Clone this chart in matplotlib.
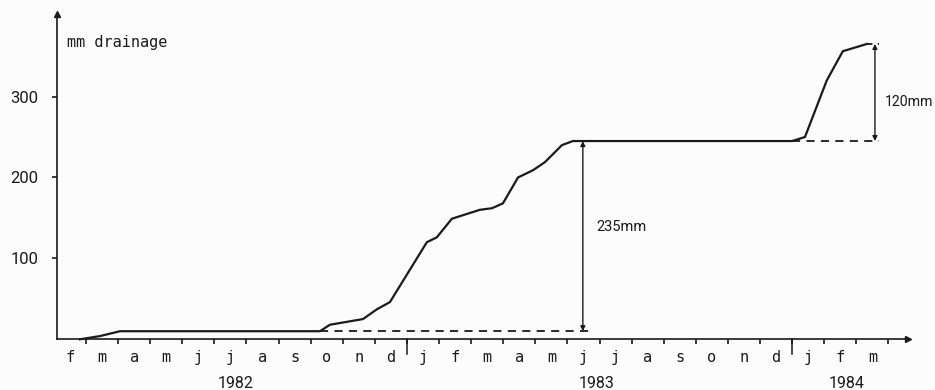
import matplotlib
matplotlib.use("Agg")
import matplotlib.pyplot as plt

# Cumulative drainage, months counted from 1 Jan 1982 (12 = 1 Jan 1983, 24 = 1 Jan 1984)
months = [1.81, 2.44, 3.06, 9.29, 9.60, 10.63, 11.06, 11.47, 12.62, 12.93, 13.40,
          14.27, 14.65, 14.99, 15.46, 15.93, 16.30, 16.83, 17.17, 24.00, 24.40,
          25.08, 25.58, 26.33]
drainage = [0, 4, 10, 10, 18, 25, 37, 46, 120, 126, 149,
            160, 162, 168, 200, 209, 219, 240, 245, 245, 250,
            320, 356, 365]

month_letters = ["f", "m", "a", "m", "j", "j", "a", "s", "o", "n", "d",
                 "j", "f", "m", "a", "m", "j", "j", "a", "s", "o", "n", "d",
                 "j", "f", "m"]
first_month = 1  # February 1982
year_labels = ["1982", "1983", "1984"]
year_label_pos = [6.67, 17.9, 25.7]
year_bounds = [12, 24]
y_ticks = [100, 200, 300]

# Seasonal totals shown as dimension arrows
season1_base, season1_top = 10, 245
season2_base, season2_top = 245, 365

num_font = "Roboto"
mono_font = "DejaVu Sans Mono"
ink = "#1a1a1a"

fig = plt.figure(figsize=(9.35, 3.9), dpi=100, facecolor="#fcfcfc")
ax = fig.add_axes([57 / 935, (390 - 339.3) / 390, (908 - 57) / 935, (339.3 - 14) / 390])
ax.set_facecolor("#fcfcfc")
ax.set_xlim(1.097, 27.61)
ax.set_ylim(0, 402)

# curve
ax.plot(months, drainage, color=ink, lw=1.6, solid_joinstyle="round", clip_on=False)

# axes as arrows
for side in ("top", "right"):
    ax.spines[side].set_visible(False)
for side in ("left", "bottom"):
    ax.spines[side].set_color(ink)
    ax.spines[side].set_linewidth(1.2)
ax.plot(1, 0, ">", color=ink, ms=5, transform=ax.get_yaxis_transform(), clip_on=False)
ax.plot(ax.get_xlim()[0], 1, "^", color=ink, ms=5,
        transform=ax.get_xaxis_transform(), clip_on=False)

# y axis
ax.set_yticks(y_ticks)
ax.set_yticklabels([str(v) for v in y_ticks], fontsize=12, family=num_font, color=ink)
ax.tick_params(axis="y", direction="out", length=3.5, width=1.2, color=ink, pad=10)

# x axis: ticks at month boundaries, letters at month centres
bounds = list(range(2, 28))
ax.set_xticks(bounds)
ax.set_xticklabels([""] * len(bounds))
ax.tick_params(axis="x", which="major", direction="out", length=3.5, width=1.2, color=ink)
centres = [first_month + i + 0.5 for i in range(len(month_letters))]
ax.set_xticks(centres, minor=True)
ax.set_xticklabels(month_letters, minor=True, fontsize=11, family=mono_font, color=ink)
ax.tick_params(axis="x", which="minor", length=0, pad=8)

# year boundaries
for b in year_bounds:
    ax.plot([b, b], [0, -18], color=ink, lw=1.1, clip_on=False)
for lab, x in zip(year_labels, year_label_pos):
    ax.text(x, -55, lab, ha="center", va="center", fontsize=11.5, family=num_font, color=ink)

ax.text(1.41, 367, "mm drainage", ha="left", va="center", fontsize=11,
        family=mono_font, color=ink)

# first season: 235 mm
ax.plot([9.29, 17.8], [season1_base, season1_base], color=ink, lw=1.3,
        ls=(0, (4.5, 3.5)))
ax.annotate("", xy=(17.48, season1_top), xytext=(17.48, season1_base),
            arrowprops=dict(arrowstyle="<|-|>", color=ink, lw=1.0,
                            mutation_scale=7, shrinkA=0, shrinkB=0))
ax.text(17.9, 139, f"{season1_top - season1_base}mm", ha="left", va="center",
        fontsize=10.5, family=num_font, color=ink)

# second season: 120 mm
ax.plot([24.0, 26.7], [season2_base, season2_base], color=ink, lw=1.3,
        ls=(0, (4.5, 3.5)), clip_on=False)
ax.plot([26.33, 26.7], [season2_top, season2_top], color=ink, lw=1.3,
        ls=(0, (3, 3)), clip_on=False)
ax.annotate("", xy=(26.58, season2_top), xytext=(26.58, season2_base),
            arrowprops=dict(arrowstyle="<|-|>", color=ink, lw=1.0,
                            mutation_scale=7, shrinkA=0, shrinkB=0),
            annotation_clip=False)
ax.text(26.9, 293, f"{season2_top - season2_base}mm", ha="left", va="center",
        fontsize=10.2, family=num_font, color=ink)

fig.savefig("out.png", dpi=100, facecolor=fig.get_facecolor())
